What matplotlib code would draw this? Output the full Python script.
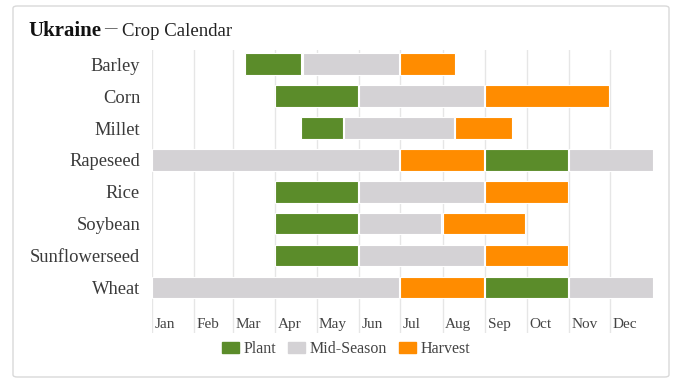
import matplotlib.pyplot as plt
from matplotlib.patches import FancyBboxPatch, Patch

crops = ['Barley', 'Corn', 'Millet', 'Rapeseed', 'Rice', 'Soybean', 'Sunflowerseed', 'Wheat']
months = ['Jan', 'Feb', 'Mar', 'Apr', 'May', 'Jun', 'Jul', 'Aug', 'Sep', 'Oct', 'Nov', 'Dec']
month_start = [0, 31, 59, 90, 120, 151, 181, 212, 243, 273, 304, 334]

# (start day, end day) per crop and stage
plant = {
    'Barley': [(68, 109)], 'Corn': [(90, 150)], 'Millet': [(109, 139)],
    'Rapeseed': [(243, 303)], 'Rice': [(90, 150)], 'Soybean': [(90, 150)],
    'Sunflowerseed': [(90, 150)], 'Wheat': [(243, 303)],
}
mid_season = {
    'Barley': [(110, 180)], 'Corn': [(151, 242)], 'Millet': [(140, 220)],
    'Rapeseed': [(0, 180), (304, 365)], 'Rice': [(151, 242)], 'Soybean': [(151, 211)],
    'Sunflowerseed': [(151, 242)], 'Wheat': [(0, 180), (304, 365)],
}
harvest = {
    'Barley': [(181, 221)], 'Corn': [(243, 333)], 'Millet': [(221, 262)],
    'Rapeseed': [(181, 242)], 'Rice': [(243, 303)], 'Soybean': [(212, 272)],
    'Sunflowerseed': [(243, 303)], 'Wheat': [(181, 242)],
}

GREEN = '#5b8c2a'
GREY = '#d4d2d5'
ORANGE = '#ff8c00'
SERIF = ['Liberation Serif', 'DejaVu Serif']

W, H = 690, 383
fig = plt.figure(figsize=(W / 100, H / 100), dpi=100)

card = FancyBboxPatch((13 / W, 6 / H), 656 / W, 371 / H,
                      boxstyle='round,pad=0,rounding_size=0.006',
                      transform=fig.transFigure, facecolor='white',
                      edgecolor='#d9d9d9', linewidth=1, zorder=-5)
fig.patches.append(card)

# plot area: x 151.7..653 px, y 49.5..332.6 px
ax = fig.add_axes([151.7 / W, 1 - 332.6 / H, (653 - 151.7) / W, (332.6 - 49.5) / H])
ax.set_facecolor('none')
ax.set_xlim(0, 365)
ax.set_ylim(8.41, -0.46)

for m in month_start:
    ax.axvline(m, color='#e6e6e6', linewidth=1, zorder=0)

for stage, color in [(plant, GREEN), (mid_season, GREY), (harvest, ORANGE)]:
    for i, crop in enumerate(crops):
        for s, e in stage[crop]:
            ax.barh(i, e - s, left=s, height=0.67, color=color,
                    edgecolor='white', linewidth=0.8, zorder=2)

for name, m in zip(months, month_start):
    ax.text(m + 1.8, 8.17, name, ha='left', va='center', fontsize=11,
            family=SERIF, color='#444444')

ax.set_yticks(range(len(crops)))
ax.set_yticklabels(crops, family=SERIF, fontsize=13.3, color='#3a3a3a')
ax.tick_params(axis='y', length=0, pad=8.4)
ax.set_xticks([])
for sp in ax.spines.values():
    sp.set_visible(False)

fig.text(28.5 / W, 1 - 31 / H, 'Ukraine', fontsize=15, fontweight='bold',
         family=SERIF, color='#111111', va='center')
fig.text(104 / W, 1 - 28.5 / H, '\u2014', fontsize=9,
         family=SERIF, color='#222222', va='center')
fig.text(121.5 / W, 1 - 31 / H, 'Crop Calendar', fontsize=13.5,
         family=SERIF, color='#222222', va='center')

handles = [Patch(color=GREEN, label='Plant'), Patch(color=GREY, label='Mid-Season'),
           Patch(color=ORANGE, label='Harvest')]
fig.legend(handles=handles, loc='center', bbox_to_anchor=(346 / W, 1 - 349 / H),
           ncol=3, frameon=False, handlelength=1.07, handleheight=0.75,
           handletextpad=0.25, columnspacing=0.78,
           prop={'family': SERIF, 'size': 11.5}, labelcolor='#444444')

fig.savefig('out.png', dpi=100)
